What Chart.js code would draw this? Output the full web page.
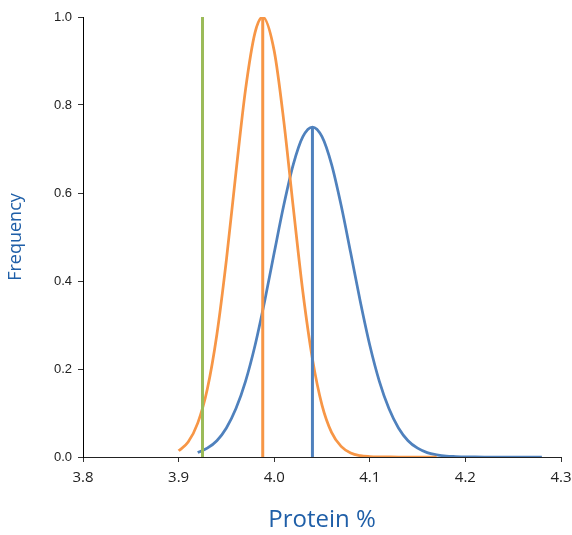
<!DOCTYPE html>
<html>
<head>
<meta charset="utf-8">
<script src="https://cdn.jsdelivr.net/npm/chart.js@4.4.1/dist/chart.umd.min.js"></script>
<style>
  html, body { margin: 0; padding: 0; background: #fff; }
  #wrap { width: 572px; height: 535px; position: relative; }
</style>
</head>
<body>
<div id="wrap"><canvas id="c" width="572" height="535"></canvas></div>
<script>
// Orange distribution
const orangeX = [3.90, 3.91, 3.92, 3.93, 3.94, 3.95, 3.96, 3.97, 3.98, 3.988, 4.00, 4.01, 4.02, 4.03, 4.04, 4.05, 4.06, 4.07, 4.08, 4.09, 4.10, 4.11, 4.12, 4.13, 4.14, 4.15, 4.16, 4.17];
const orangeY = [0.014, 0.034, 0.077, 0.154, 0.278, 0.448, 0.647, 0.835, 0.965, 1.0, 0.923, 0.764, 0.566, 0.375, 0.223, 0.118, 0.056, 0.024, 0.009, 0.003, 0.001, 0.0003, 0.0001, 0, 0, 0, 0, 0];
// Blue distribution
const blueX = [3.92, 3.93, 3.94, 3.95, 3.96, 3.97, 3.98, 3.99, 4.00, 4.01, 4.02, 4.03, 4.04, 4.05, 4.06, 4.07, 4.08, 4.09, 4.10, 4.11, 4.12, 4.13, 4.14, 4.15, 4.16, 4.17, 4.18, 4.19, 4.20, 4.21, 4.22, 4.24, 4.26, 4.28];
const blueY = [0.010, 0.020, 0.037, 0.066, 0.110, 0.172, 0.254, 0.354, 0.464, 0.572, 0.665, 0.728, 0.75, 0.728, 0.665, 0.572, 0.464, 0.354, 0.254, 0.172, 0.110, 0.066, 0.037, 0.020, 0.010, 0.005, 0.002, 0.001, 0.0003, 0.0001, 0, 0, 0, 0];
// Vertical markers: [x, height]
const greenLine = [3.925, 1.0];
const orangeLine = [3.988, 1.0];
const blueLine = [4.04, 0.75];
// Axis tick settings
const xTicks = [3.8, 3.9, 4.0, 4.1, 4.2, 4.3];
const yTicks = [0.0, 0.2, 0.4, 0.6, 0.8, 1.0];

const ORANGE = '#F79646', BLUE = '#4F81BD', GREEN = '#9BBB59', TITLE = '#1F5FA8';
const pts = (xs, ys) => xs.map((x, i) => ({ x: x, y: ys[i] }));
const vline = (l) => [{ x: l[0], y: 0 }, { x: l[0], y: l[1] }];

new Chart(document.getElementById('c'), {
  type: 'scatter',
  data: {
    datasets: [
      { data: vline(greenLine), borderColor: GREEN, borderWidth: 3, showLine: true, pointRadius: 0, order: 0 },
      { data: vline(orangeLine), borderColor: ORANGE, borderWidth: 3, showLine: true, pointRadius: 0, order: 0 },
      { data: vline(blueLine), borderColor: BLUE, borderWidth: 3, showLine: true, pointRadius: 0, order: 0 },
      { data: pts(orangeX, orangeY), borderColor: ORANGE, borderWidth: 2.75, showLine: true, pointRadius: 0, cubicInterpolationMode: 'monotone', order: 1 },
      { data: pts(blueX, blueY), borderColor: BLUE, borderWidth: 2.75, showLine: true, pointRadius: 0, cubicInterpolationMode: 'monotone', order: 2 }
    ]
  },
  options: {
    responsive: false,
    animation: false,
    events: [],
    layout: { padding: { left: 0, right: 11, top: 17, bottom: 0 } },
    plugins: { legend: { display: false }, tooltip: { enabled: false } },
    scales: {
      x: {
        type: 'linear',
        min: xTicks[0], max: xTicks[xTicks.length - 1],
        afterBuildTicks: (s) => { s.ticks = xTicks.map(v => ({ value: v })); },
        afterFit: (s) => { s.height = 78; s.paddingLeft = 0; s.paddingRight = 0; },
        ticks: { callback: (v) => Number(v).toFixed(1), color: '#222', font: { family: 'Open Sans', size: 15 }, padding: 7, maxRotation: 0 },
        grid: { drawOnChartArea: false, drawTicks: true, tickLength: 5, color: '#333' },
        border: { display: true, color: '#222', width: 1 },
        title: { display: true, text: 'Protein %', color: TITLE, font: { family: 'Open Sans', size: 24 }, padding: { top: 0, bottom: 0 } }
      },
      y: {
        type: 'linear',
        min: yTicks[0], max: yTicks[yTicks.length - 1],
        afterBuildTicks: (s) => { s.ticks = yTicks.map(v => ({ value: v })); },
        afterFit: (s) => { s.width = 83; s.paddingTop = 0; s.paddingBottom = 0; },
        ticks: { callback: (v) => Number(v).toFixed(1), color: '#222', font: { family: 'Liberation Sans', size: 13 }, padding: 6 },
        grid: { drawOnChartArea: false, drawTicks: true, tickLength: 5, color: '#333' },
        border: { display: true, color: '#000', width: 1 },
        title: { display: true, text: 'Frequency', color: TITLE, font: { family: 'Open Sans', size: 18 }, padding: { top: 5, bottom: 0 } }
      }
    }
  }
});
</script>
</body>
</html>
